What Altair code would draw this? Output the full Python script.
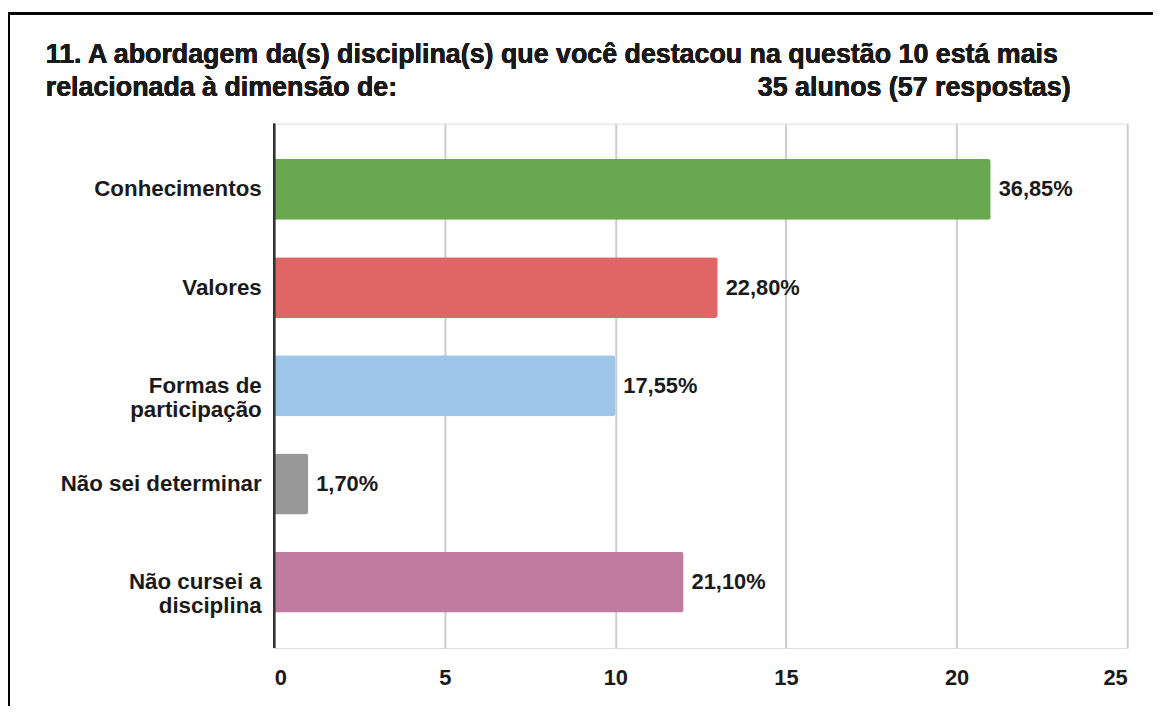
import altair as alt
import pandas as pd

categories = ["Conhecimentos", "Valores", "Formas de\nparticipação", "Não sei determinar", "Não cursei a\ndisciplina"]
counts = [21, 13, 10, 1, 12]
pct_labels = ["36,85%", "22,80%", "17,55%", "1,70%", "21,10%"]
colors = ["#6aa84f", "#e06666", "#9fc5e8", "#999999", "#c27ba0"]
x_ticks = [0, 5, 10, 15, 20, 25]
title_line1 = "11. A abordagem da(s) disciplina(s) que você destacou na questão 10 está mais"
title_line2 = "relacionada à dimensão de:"
title_right = "35 alunos (57 respostas)"

df = pd.DataFrame({"cat": categories, "n": counts, "pct": pct_labels})

W, H = 859, 528
FONT = "Liberation Sans"
TXT = "#1a1a1a"

y_enc = alt.Y("cat:N", sort=categories,
              scale=alt.Scale(paddingInner=0.38, paddingOuter=0.36),
              axis=alt.Axis(title=None, ticks=False, domain=False, labelPadding=13,
                            labelFont=FONT, labelFontSize=22.5, labelFontWeight="bold",
                            labelColor=TXT, labelLineHeight=24,
                            labelExpr="split(datum.label, '\\n')", labelLimit=265))
x_enc = alt.X("n:Q", scale=alt.Scale(domain=[0, 25], nice=False),
              axis=alt.Axis(title=None, values=x_ticks, ticks=False, domain=False,
                            grid=True, gridColor="#cccccc", gridWidth=2,
                            labelFont=FONT, labelFontSize=22, labelFontWeight="bold",
                            labelColor=TXT, labelPadding=20))

bars = alt.Chart(df).mark_bar(cornerRadiusEnd=3).encode(
    x=x_enc, y=y_enc,
    color=alt.Color("cat:N", sort=categories,
                    scale=alt.Scale(domain=categories, range=colors), legend=None),
)

labels = alt.Chart(df).mark_text(align="left", baseline="middle", dx=8,
                                 font=FONT, fontSize=22, fontWeight="bold",
                                 color=TXT).encode(
    x="n:Q", y=alt.Y("cat:N", sort=categories), text="pct:N")

zero = alt.Chart(df).mark_rule(color="#333333", strokeWidth=2).encode(
    x=alt.datum(0), y=alt.value(0), y2=alt.value(H))

t1 = alt.Chart(df).mark_text(align="left", baseline="middle", font=FONT, fontSize=27,
                             fontWeight="bold", color=TXT).encode(
    x=alt.value(-230), y=alt.value(-69), text=alt.datum(title_line1))
t2 = alt.Chart(df).mark_text(align="left", baseline="middle", font=FONT, fontSize=27,
                             fontWeight="bold", color=TXT).encode(
    x=alt.value(-230), y=alt.value(-36), text=alt.datum(title_line2))
t3 = alt.Chart(df).mark_text(align="right", baseline="middle", font=FONT, fontSize=27,
                             fontWeight="bold", color=TXT).encode(
    x=alt.value(802), y=alt.value(-36), text=alt.datum(title_right))

frame = alt.Chart(df).mark_rect(fill=None, stroke="#000000", strokeWidth=2).encode(
    x=alt.value(-267), x2=alt.value(W + 60), y=alt.value(-111), y2=alt.value(H + 100))

chart = alt.layer(bars, labels, zero, t1, t2, t3, frame).properties(
    width=W, height=H,
    autosize=alt.AutoSizeParams(type="none"),
    padding={"left": 268, "top": 114, "right": 26, "bottom": 56},
).configure_view(stroke=None).configure(background="white")

chart.save("out.html", embed_options={"renderer": "svg", "actions": False})
